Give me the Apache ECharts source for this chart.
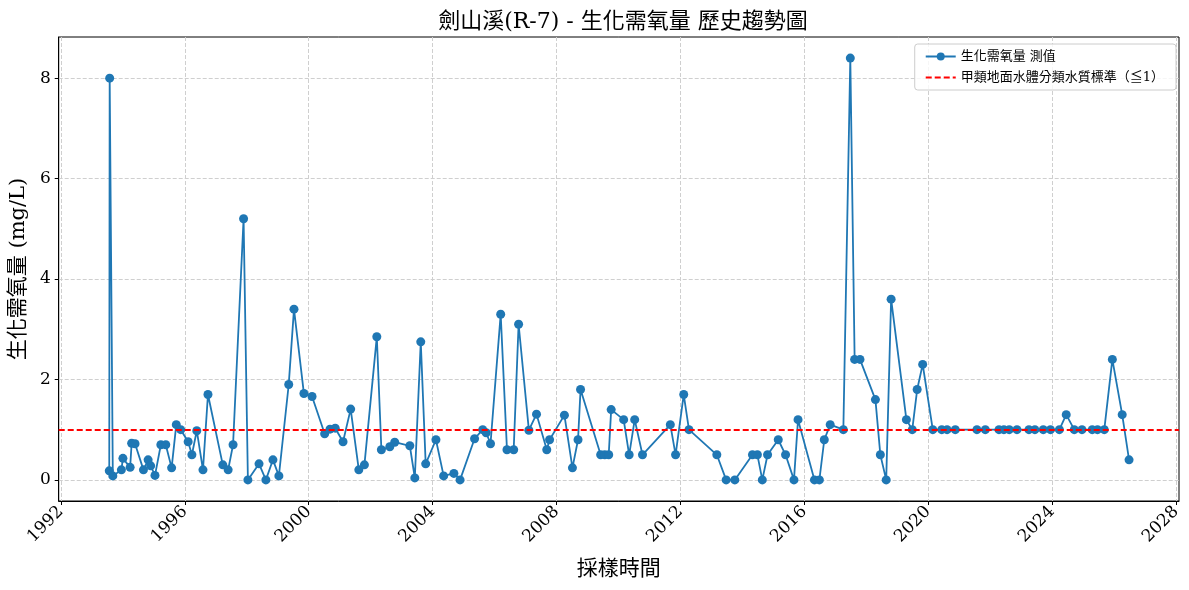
<!DOCTYPE html>
<html>
<head>
<meta charset="utf-8">
<script src="https://cdn.jsdelivr.net/npm/echarts@6/dist/echarts.min.js"></script>
<style>
html,body{margin:0;padding:0;background:#fff;}
#main{width:1189px;height:590px;}
</style>
</head>
<body>
<div id="main"></div>
<script>
// 採樣日期
var dates = [
  '1993-07-25','1993-07-30','1993-09-05','1993-12-15','1994-01-02','1994-03-28','1994-04-15','1994-05-25',
  '1994-09-01','1994-10-26','1994-11-25','1995-01-15','1995-03-25','1995-05-22','1995-07-30','1995-09-23',
  '1995-11-14','1996-02-10','1996-03-25','1996-05-22','1996-08-03','1996-10-01','1997-03-25','1997-05-27',
  '1997-07-24','1997-11-25','1998-01-15','1998-05-26','1998-08-15','1998-11-06','1999-01-15','1999-05-11',
  '1999-07-12','1999-11-06','2000-02-10','2000-07-08','2000-09-09','2000-11-10','2001-02-10','2001-05-11',
  '2001-08-15','2001-10-20','2002-03-15','2002-05-08','2002-08-15','2002-10-12','2003-04-08','2003-06-06',
  '2003-08-15','2003-10-12','2004-02-10','2004-05-11','2004-09-09','2004-11-21','2005-05-11','2005-08-15',
  '2005-09-25','2005-11-15','2006-03-15','2006-05-28','2006-08-15','2006-10-12','2007-02-10','2007-05-11',
  '2007-09-09','2007-10-12','2008-04-04','2008-07-08','2008-09-12','2008-10-12','2009-06-06','2009-07-24',
  '2009-09-09','2009-10-08','2010-03-04','2010-05-08','2010-07-12','2010-10-12','2011-09-05','2011-11-06',
  '2012-02-10','2012-04-12','2013-03-07','2013-06-25','2013-10-05','2014-05-01','2014-06-28','2014-08-25',
  '2014-10-26','2015-03-01','2015-05-26','2015-09-02','2015-10-20','2016-05-01','2016-06-28','2016-08-25',
  '2016-11-03','2017-04-07','2017-06-28','2017-08-18','2017-10-20','2018-04-20','2018-06-17','2018-08-25',
  '2018-10-22','2019-04-20','2019-06-28','2019-08-25','2019-10-29','2020-02-25','2020-06-10','2020-08-12',
  '2020-11-17','2021-07-30','2021-11-06','2022-04-16','2022-06-13','2022-08-15','2022-11-14','2023-04-04',
  '2023-06-13','2023-09-20','2023-12-14','2024-03-28','2024-06-17','2024-09-20','2024-12-20','2025-04-20',
  '2025-06-21','2025-09-09','2025-12-13','2026-04-08','2026-06-28'
];
// 生化需氧量 測值 (mg/L)
var bodValues = [
  0.18,8.0,0.08,0.2,0.43,0.25,0.73,0.72,
  0.2,0.4,0.28,0.09,0.7,0.7,0.24,1.1,
  1.0,0.76,0.5,0.98,0.2,1.7,0.3,0.2,
  0.7,5.2,0.0,0.32,0.0,0.4,0.08,1.9,
  3.4,1.72,1.66,0.92,1.01,1.03,0.76,1.41,
  0.2,0.3,2.85,0.6,0.66,0.75,0.68,0.04,
  2.75,0.32,0.8,0.08,0.13,0.0,0.82,1.0,
  0.94,0.72,3.3,0.6,0.6,3.1,0.99,1.31,
  0.6,0.8,1.29,0.24,0.8,1.8,0.5,0.5,
  0.5,1.4,1.2,0.5,1.2,0.5,1.1,0.5,
  1.7,1.0,0.5,0.0,0.0,0.5,0.5,0.0,
  0.5,0.8,0.5,0.0,1.2,0.0,0.0,0.8,
  1.1,1.0,8.4,2.4,2.4,1.6,0.5,0.0,
  3.6,1.2,1.0,1.8,2.3,1.0,1.0,1.0,
  1.0,1.0,1.0,1.0,1.0,1.0,1.0,1.0,
  1.0,1.0,1.0,1.0,1.3,1.0,1.0,1.0,
  1.0,1.0,2.4,1.3,0.4
];
var standardValue = 1; // 甲類地面水體分類水質標準
var xTickYears = [1992, 1996, 2000, 2004, 2008, 2012, 2016, 2020, 2024, 2028];
var yTicks = [0, 2, 4, 6, 8];

var fontFam = "'DejaVu Serif', 'Noto Sans CJK TC', serif";

// 日期 -> 年(小數)
function toYear(s){
  var p = s.split('-');
  var y = +p[0];
  var t0 = Date.UTC(y, 0, 1), t1 = Date.UTC(y + 1, 0, 1);
  var t = Date.UTC(y, +p[1] - 1, +p[2]);
  return y + (t - t0) / (t1 - t0);
}

var seriesData = [];
for (var i = 0; i < dates.length; i++) {
  seriesData.push([toYear(dates[i]), bodValues[i]]);
}

var option = {
  animation: false,
  backgroundColor: '#fff',
  title: {
    text: '劍山溪(R-7) - 生化需氧量 歷史趨勢圖',
    left: 618,
    textAlign: 'center',
    top: 6,
    textStyle: { fontFamily: fontFam, fontSize: 22, fontWeight: 'normal', color: '#000' }
  },
  grid: {
    left: 58, right: 10, top: 37, bottom: 89,
    show: true, borderColor: '#000', borderWidth: 1, backgroundColor: 'transparent'
  },
  legend: {
    right: 13, top: 44,
    orient: 'vertical',
    itemWidth: 30, itemHeight: 10, itemGap: 8,
    padding: [6, 12, 6, 10],
    borderColor: '#ccc', borderWidth: 1, borderRadius: 3,
    backgroundColor: 'rgba(255,255,255,0.8)',
    textStyle: { fontFamily: fontFam, fontSize: 13, color: '#000' },
    data: [
      { name: '生化需氧量 測值' },
      { name: '甲類地面水體分類水質標準（≦1）', itemStyle: { opacity: 0 } }
    ]
  },
  xAxis: {
    type: 'value',
    min: 1991.93,
    max: 2028.1,
    name: '採樣時間',
    nameLocation: 'middle',
    nameGap: 58,
    nameTextStyle: { fontFamily: fontFam, fontSize: 21, color: '#000' },
    axisLine: { show: true, onZero: false, lineStyle: { color: '#000', width: 1 } },
    axisTick: { show: true, length: 4, customValues: xTickYears, lineStyle: { color: '#000' } },
    axisLabel: {
      customValues: xTickYears,
      rotate: 45,
      margin: 8,
      fontFamily: fontFam, fontSize: 17, color: '#000',
      formatter: function(v){ return String(Math.round(v)); }
    },
    splitLine: { show: true, lineStyle: { color: '#cfcfcf', type: [4, 2], width: 1 } }
  },
  yAxis: {
    type: 'value',
    min: -0.42,
    max: 8.82,
    name: '生化需氧量 (mg/L)',
    nameLocation: 'middle',
    nameGap: 29,
    nameTextStyle: { fontFamily: fontFam, fontSize: 21, color: '#000' },
    axisLine: { show: true, onZero: false, lineStyle: { color: '#000', width: 1 } },
    axisTick: { show: true, length: 4, customValues: yTicks, lineStyle: { color: '#000' } },
    axisLabel: {
      customValues: yTicks,
      margin: 8,
      fontFamily: fontFam, fontSize: 17, color: '#000'
    },
    splitLine: { show: true, lineStyle: { color: '#cfcfcf', type: [4, 2], width: 1 } }
  },
  series: [
    {
      name: '生化需氧量 測值',
      type: 'line',
      data: seriesData,
      symbol: 'circle',
      symbolSize: 9,
      color: '#1f77b4',
      lineStyle: { color: '#1f77b4', width: 1.8 },
      itemStyle: { color: '#1f77b4' },
      z: 3
    },
    {
      name: '甲類地面水體分類水質標準（≦1）',
      type: 'line',
      data: [],
      symbol: 'none',
      color: 'red',
      lineStyle: { color: 'red', width: 1.8, type: [6, 3] },
      markLine: {
        silent: true,
        symbol: 'none',
        label: { show: false },
        lineStyle: { color: 'red', width: 1.8, type: [6, 3] },
        data: [{ yAxis: standardValue }]
      },
      z: 4
    }
  ]
};

var chart = echarts.init(document.getElementById('main'));
chart.setOption(option);
</script>
</body>
</html>
